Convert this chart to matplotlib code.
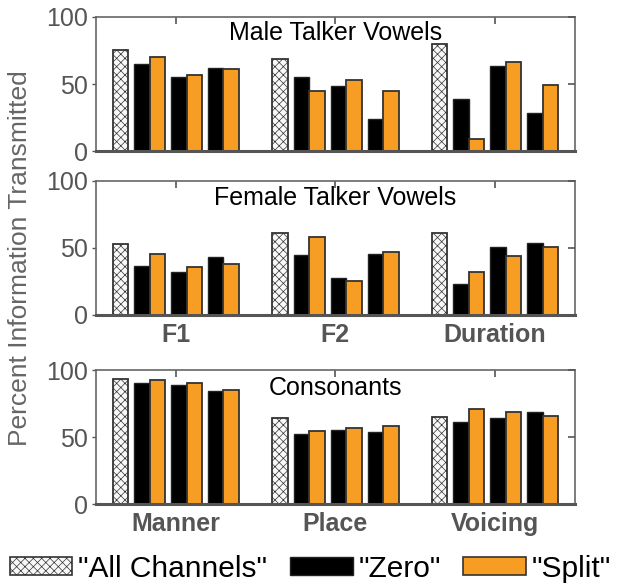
import numpy as np
import matplotlib
matplotlib.use("Agg")
import matplotlib.pyplot as plt
from matplotlib.patches import Patch

plt.rcParams['font.family'] = ['Liberation Sans', 'DejaVu Sans']
plt.rcParams['hatch.color'] = '#cfcfcf'
plt.rcParams['hatch.linewidth'] = 0.5

titles = ["Male Talker Vowels", "Female Talker Vowels", "Consonants"]
vowel_labels = ["F1", "F2", "Duration"]
consonant_labels = ["Manner", "Place", "Voicing"]

# "All Channels" value per group
male_all = [75.5, 68.5, 79.5]
female_all = [53.0, 61.0, 61.5]
cons_all = [93.5, 64.0, 65.0]

# three "Zero"/"Split" pairs per group
male_zero = [[65, 55, 62], [55, 48.5, 24], [38.5, 63.5, 28]]
male_split = [[70, 57, 61], [45, 53, 44.5], [9, 66.5, 49]]
female_zero = [[36.5, 32, 43.5], [45, 27.5, 45.5], [23, 50.5, 54]]
female_split = [[45.5, 36, 38], [58.5, 25.5, 47], [32, 44, 50.5]]
cons_zero = [[90, 89, 84.5], [52.5, 55.5, 54], [61.5, 64.5, 68.5]]
cons_split = [[92.5, 90, 85], [54.5, 56.5, 58], [71, 68.5, 65.5]]

panels = [
    (titles[0], male_all, male_zero, male_split, None, 0.88),
    (titles[1], female_all, female_zero, female_split, vowel_labels, 0.87),
    (titles[2], cons_all, cons_zero, cons_split, consonant_labels, 0.865),
]

orange = '#F79D24'
gray = '#555555'
edge = '#333333'

fig = plt.figure(figsize=(6.21, 5.86), dpi=100)
bottoms = [0.7423, 0.4625, 0.1399]

w = 0.097
g = 0.0375
left0 = -(7 * w + 3 * g) / 2

for (title, all_v, zero_v, split_v, labels, ty), b in zip(panels, bottoms):
    ax = fig.add_axes([0.1546, b, 0.771, 0.2287])
    groups = np.arange(3)
    ax.bar(groups + left0 + w / 2, all_v, width=w, facecolor='#f8f8f8',
           edgecolor=edge, hatch='xxxx', linewidth=1.3)
    zero_arr = np.array(zero_v)
    split_arr = np.array(split_v)
    for k in range(3):
        xz = groups + left0 + (1 + 2 * k) * w + (k + 1) * g + w / 2
        ax.bar(xz, zero_arr[:, k], width=w, color='black', edgecolor='#222222', linewidth=1.0)
        ax.bar(xz + w, split_arr[:, k], width=w, color=orange, edgecolor=edge, linewidth=1.3)

    ax.set_xlim(-0.5, 2.5)
    ax.set_ylim(0, 100)
    ax.set_yticks([0, 50, 100])
    ax.set_xticks(groups)
    if labels is None:
        ax.set_xticklabels([])
    else:
        ax.set_xticklabels(labels, fontsize=18, fontweight='bold', color=gray)
    ax.tick_params(axis='y', labelsize=18, labelcolor=gray, pad=3,
                   direction='out', left=True, right=False, length=3, width=1.0, color=gray)
    ax.tick_params(axis='x', direction='in', bottom=False, top=True,
                   length=5, width=1.2, color=gray, pad=6)
    for side in ['top', 'right', 'left']:
        ax.spines[side].set_color('#666666')
        ax.spines[side].set_linewidth(1.2)
    ax.spines['bottom'].set_color(gray)
    ax.spines['bottom'].set_linewidth(2.2)
    ax.text(0.5, ty, title, transform=ax.transAxes, ha='center', va='center',
            fontsize=18, color='black')

    # inward ticks on the right edge
    ax_r = ax.twinx()
    ax_r.set_ylim(0, 100)
    ax_r.set_yticks([0, 50, 100])
    ax_r.tick_params(axis='y', direction='in', length=5, width=1.2, color=gray,
                     labelright=False)
    for side in ax_r.spines:
        ax_r.spines[side].set_visible(False)

fig.text(0.033, 0.56, "Percent Information Transmitted", rotation=90,
         ha='center', va='center', fontsize=19, color='#666666')

handles = [
    Patch(facecolor='#f8f8f8', edgecolor=edge, hatch='xxxx', linewidth=1.2),
    Patch(facecolor='black', edgecolor='#222222'),
    Patch(facecolor=orange, edgecolor=edge, linewidth=1.2),
]
fig.legend(handles, ['"All Channels"', '"Zero"', '"Split"'], loc='lower center',
           bbox_to_anchor=(0.5, -0.04), ncol=3, frameon=False, fontsize=21.5,
           handlelength=2.1, handleheight=0.55, handletextpad=0.2, columnspacing=0.75)

fig.savefig("out.png", dpi=100)
